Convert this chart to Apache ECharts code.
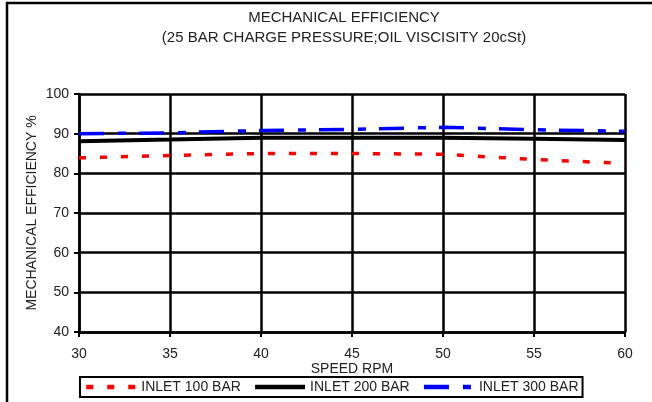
<!DOCTYPE html>
<html>
<head>
<meta charset="utf-8">
<script src="https://cdn.jsdelivr.net/npm/echarts@6/dist/echarts.min.js"></script>
<style>html,body{margin:0;padding:0;background:#fff}#c{width:652px;height:402px}</style>
</head>
<body>
<div id="c"></div>
<script>
const speeds = [30, 35, 40, 45, 50, 55, 60];
const inlet100 = [83.9, 84.5, 85.0, 85.0, 84.8, 83.5, 82.5];
const inlet200 = [88.1, 88.5, 89.0, 89.0, 89.0, 88.7, 88.4];
const inlet300 = [90.0, 90.2, 90.8, 91.1, 91.6, 91.0, 90.6];
const seriesNames = ['INLET 100 BAR', 'INLET 200 BAR', 'INLET 300 BAR'];

const pairs = arr => speeds.map((s, i) => [s, arr[i]]);
const font = 'Liberation Sans, Arial, sans-serif';
const txt = '#222';

const chart = echarts.init(document.getElementById('c'), null, {renderer: 'canvas'});
chart.setOption({
  animation: false,
  backgroundColor: '#fff',
  title: {
    text: 'MECHANICAL EFFICIENCY',
    subtext: '(25 BAR CHARGE PRESSURE;OIL VISCISITY 20cSt)',
    left: 339, top: 5, textAlign: 'center', itemGap: 5,
    textStyle: {fontFamily: font, fontSize: 15, fontWeight: 'normal', color: txt},
    subtextStyle: {fontFamily: font, fontSize: 15, color: txt}
  },
  grid: {left: 79, right: 27, top: 94, bottom: 70},
  legend: {
    left: 80, top: 377,
    data: seriesNames,
    itemWidth: 50, itemHeight: 14, itemGap: 12,
    padding: [3, 4],
    borderColor: '#000', borderWidth: 2,
    itemStyle: {opacity: 0},
    lineStyle: {width: 4.5},
    textStyle: {fontFamily: font, fontSize: 14, color: txt}
  },
  xAxis: {
    type: 'value', min: 30, max: 60, interval: 5,
    name: 'SPEED RPM', nameLocation: 'middle', nameGap: 30, nameMoveOverlap: false,
    nameTextStyle: {fontFamily: font, fontSize: 14, color: txt},
    axisLine: {lineStyle: {color: '#000', width: 2.5}},
    axisTick: {show: true, length: 5, lineStyle: {color: '#000', width: 2}},
    axisLabel: {fontFamily: font, fontSize: 14, color: txt, margin: 15},
    splitLine: {show: true, lineStyle: {color: '#000', width: 2.5}}
  },
  yAxis: {
    type: 'value', min: 40, max: 100, interval: 10,
    name: 'MECHANICAL EFFICIENCY %', nameLocation: 'middle', nameGap: 40, nameMoveOverlap: false,
    nameTextStyle: {fontFamily: font, fontSize: 14, color: txt},
    axisLine: {show: true, lineStyle: {color: '#000', width: 2.5}},
    axisTick: {show: true, length: 5, lineStyle: {color: '#000', width: 2}},
    axisLabel: {fontFamily: font, fontSize: 14, color: txt, margin: 10},
    splitLine: {show: true, lineStyle: {color: '#000', width: 2.5}}
  },
  graphic: [
    {type: 'polyline', shape: {points: [[7, 402], [7, 3], [652, 3]]}, style: {stroke: '#000', lineWidth: 2.5, fill: null}, silent: true}
  ],
  series: [
    {name: seriesNames[0], type: 'line', data: pairs(inlet100), symbol: 'none', z: 3,
     color: '#ff0000', lineStyle: {color: '#ff0000', width: 3.5, type: [7, 14]}},
    {name: seriesNames[1], type: 'line', data: pairs(inlet200), symbol: 'none', z: 3,
     color: '#000000', lineStyle: {color: '#000000', width: 4, type: 'solid'}},
    {name: seriesNames[2], type: 'line', data: pairs(inlet300), symbol: 'none', z: 3,
     color: '#0000ff', lineStyle: {color: '#0000ff', width: 3.5, type: [25, 14, 8, 13]}}
  ]
});
</script>
</body>
</html>
